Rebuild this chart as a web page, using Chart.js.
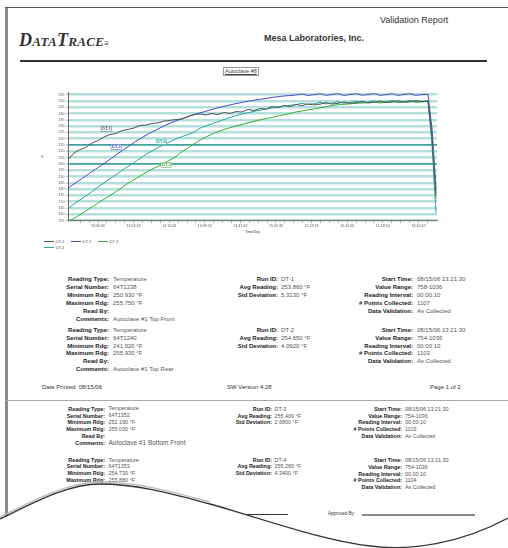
<!DOCTYPE html>
<html>
<head>
<meta charset="utf-8">
<title>Validation Report</title>
<script src="https://cdn.jsdelivr.net/npm/chart.js@4.4.1/dist/chart.umd.min.js"></script>
<style>
  body { margin: 0; background: #fff; font-family: "Liberation Sans", Arial, sans-serif; }
  #page { position: relative; width: 508px; height: 548px; overflow: hidden; background: #fff; }
  .t { position: absolute; white-space: nowrap; line-height: 1; }
  .lbl { font-weight: bold; color: #222; }
  .val { color: #555; }
  #chartBox { position: absolute; left: 40px; top: 85px; }
  #legend { position: absolute; left: 44px; top: 239px; width: 82px; display: flex; flex-wrap: wrap; row-gap: 1px; }
  .lg { display: inline-flex; align-items: center; width: 27px; font-size: 4px; color: #555; }
  .lg i { display: inline-block; width: 10px; height: 1px; margin-right: 1.5px; }
</style>
</head>
<body>
<div id="page">
  <div style="position:absolute;left:5px;top:7px;width:503px;height:1.2px;background:#555"></div>
  <div style="position:absolute;left:5px;top:8px;width:2.5px;height:512px;background:#8a8a8a"></div>

  <div class="t" style="left:380px;top:16px;font-size:9px;color:#333">Validation Report</div>
  <div class="t" style="left:19px;top:31px;font-size:18px;font-family:'Liberation Serif',serif;font-weight:bold;font-style:italic;font-variant:small-caps;color:#333;letter-spacing:0.3px">DataTrace<span style="font-size:8px">&#8801;</span></div>
  <div class="t" style="left:264px;top:34px;font-size:9px;font-weight:bold;color:#333">Mesa Laboratories, Inc.</div>
  <div style="position:absolute;left:20px;top:60px;width:467px;height:1.6px;background:#333"></div>
  <div class="t" style="left:223px;top:67px;font-size:5.5px;color:#444;border:0.5px solid #999;padding:0.5px 1px;text-decoration:underline">Autoclave #8</div>

  <div id="chartBox"><canvas id="myChart" width="420" height="150"></canvas></div>
  <div id="legend"></div>

  <div style="position:absolute;left:6px;top:400px;width:502px;height:1px;background:#aaa"></div>
  <div style="position:absolute;left:207px;top:514px;width:81px;height:1px;background:#333"></div>
  <div class="t" style="left:328px;top:512px;font-size:4.5px;color:#333">Approved By:</div>
  <div style="position:absolute;left:362px;top:514px;width:113px;height:2px;background:#888"></div>

  <svg width="508" height="548" style="position:absolute;left:0;top:0">
    <path d="M0,519 C35,502 68,484 100,484 C140,484 180,496 210,504 C260,518 320,540 370,546 C410,551 460,544 508,518 L508,548 L0,548 Z" fill="#fff"/>
    <path d="M0,517 C35,500 68,482 100,482 C140,482 180,494 210,502" fill="none" stroke="#bbb" stroke-width="1.5"/>
    <path d="M0,519 C35,502 68,484 100,484 C140,484 180,496 210,504 C260,518 320,540 370,546 C410,551 460,544 508,518" fill="none" stroke="#333" stroke-width="1.3"/>
  </svg>
</div>

<script>
// tempo em minutos desde 13:21:30
const times = [0, 3, 6, 9, 12, 15, 18, 21, 24, 27, 30, 33, 36, 39, 42, 45, 48, 51, 54, 57,
  60, 63, 66, 69, 72, 75, 78, 81, 84, 87, 90, 93, 96, 99, 102, 105, 108, 111, 114, 117,
  120, 123, 126, 129, 132, 135, 138, 141, 144, 147, 150, 153, 156, 159, 162, 165, 168,
  171, 174, 177, 180, 182, 184];

const seriesNames = ["DT-1", "DT-2", "DT-3", "DT-4"];
const seriesColors = ["#555555", "#4b4bc8", "#3cab3c", "#2ba5a5"];

const dt1 = [203.4, 208.7, 211.5, 213.1, 216.7, 218.6, 221.4, 223.4, 224.2, 226.6,
  227.4, 228.6, 230.6, 230.9, 232.2, 232.6, 234.1, 234.6, 235.3, 235.7,
  237.7, 239.3, 239.7, 238.9, 240.1, 239.3, 240.9, 240.1, 241.6, 241.3,
  243.3, 242.4, 244.0, 243.5, 245.6, 244.8, 246.4, 245.6, 247.3,
  246.3, 247.7, 246.9, 247.5, 248.7, 247.6, 248.1, 249.3, 248.1, 248.6,
  249.8, 248.5, 248.9, 250.1, 248.8, 249.1, 250.3, 249.0, 249.3, 250.4, 249.3, 249.9,
  222, 176];

const dt2 = [180.9, 184.2, 187.3, 190.6, 194.0, 197.2, 200.4, 203.7, 207.2, 210.5,
  213.7, 217.1, 220.0, 222.8, 225.4, 227.8, 230.2, 232.3, 234.3, 235.9,
  237.6, 239.2, 240.5, 241.9, 243.3, 244.6, 245.8, 246.9, 247.9, 248.9,
  249.9, 250.6, 251.4, 251.9, 252.8, 253.4, 254.0, 254.3, 254.8,
  255.6, 254.4, 255.0, 255.8, 254.5, 255.1, 255.9, 254.4, 255.2, 255.8,
  254.6, 255.1, 255.9, 254.5, 255.0, 255.8, 254.4, 255.2, 255.7, 254.5, 255.1, 255.3,
  228, 180];

const dt3 = [154.3, 156.8, 159.7, 162.9, 165.8, 169.1, 172.0, 175.0, 178.1, 181.4,
  184.7, 187.5, 190.4, 193.2, 196.0, 198.0, 200.4, 203.2, 205.9, 209.9,
  212.7, 215.9, 219.0, 221.4, 223.7, 225.6, 227.4, 228.8, 230.2, 231.4,
  232.7, 233.9, 235.0, 236.1, 237.0, 238.1, 239.1, 240.1, 241.3,
  242.1, 242.9, 243.6, 244.6, 245.4, 246.4, 247.0, 247.4, 247.7, 248.1,
  248.4, 248.6, 249.3, 248.5, 248.9, 249.8, 248.7, 249.2, 250.0, 248.9, 249.5, 249.8,
  220, 172];

const dt4 = [164.7, 168.2, 171.6, 174.8, 178.1, 181.8, 184.9, 188.3, 191.6, 194.9,
  198.2, 201.2, 204.4, 207.6, 210.3, 213.0, 215.5, 217.7, 219.9, 221.8,
  223.3, 225.4, 228.4, 230.2, 231.9, 233.6, 235.3, 236.9, 238.3, 239.7,
  240.7, 241.7, 242.7, 243.6, 244.4, 245.3, 246.0, 246.6, 247.1,
  248.2, 247.2, 247.8, 248.9, 247.7, 248.3, 249.4, 248.2, 248.8, 249.9,
  248.6, 249.2, 250.2, 248.9, 249.4, 250.4, 249.2, 249.6, 250.5, 249.4, 249.9, 250.3,
  215, 161];

// eixos
const yTicks = [155, 160, 165, 170, 175, 180, 185, 190, 195, 200, 205, 210, 215, 220,
  225, 230, 235, 240, 245, 250, 255];
const darkGridValues = [200, 215];
const xTickMinutes = [15, 32.8, 50.6, 68.4, 86.2, 104, 121.8, 139.6, 157.4, 175.2];
const xTickLabels = ["13:36:30", "13:54:18", "14:12:06", "14:29:54", "14:47:42",
  "15:05:30", "15:23:18", "15:41:06", "15:58:54", "16:16:42"];

// etiquetas nas curvas: [serie, minuto, valor]
const curveTags = [[0, 17, 227.8], [1, 22, 213.5], [3, 44.5, 217.5], [2, 47, 199.2]];

const allSeries = [dt1, dt2, dt3, dt4];

const tagPlugin = {
  id: "curveTags",
  afterDatasetsDraw(chart) {
    const ctx = chart.ctx;
    const xs = chart.scales.x, ys = chart.scales.y;
    ctx.save();
    ctx.font = "bold 4px 'Liberation Sans', Arial";
    ctx.textBaseline = "middle";
    curveTags.forEach(function(tag) {
      const px = xs.getPixelForValue(tag[1]);
      const py = ys.getPixelForValue(tag[2]);
      const txt = seriesNames[tag[0]];
      const w = ctx.measureText(txt).width + 2;
      ctx.fillStyle = "#fff";
      ctx.fillRect(px - 1, py - 2.5, w, 5);
      ctx.strokeStyle = seriesColors[tag[0]];
      ctx.lineWidth = 0.5;
      ctx.strokeRect(px - 1, py - 2.5, w, 5);
      ctx.fillStyle = seriesColors[tag[0]];
      ctx.fillText(txt, px, py);
    });
    ctx.restore();
  }
};

const tickFont = { size: 3.6, family: "'Liberation Sans', Arial" };

const chart = new Chart(document.getElementById("myChart"), {
  type: "line",
  data: {
    datasets: allSeries.map(function(s, i) {
      return {
        label: seriesNames[i],
        data: times.map(function(t, j) { return { x: t, y: s[j] }; }),
        borderColor: seriesColors[i],
        backgroundColor: seriesColors[i],
        borderWidth: 1,
        pointRadius: 0,
        tension: 0
      };
    })
  },
  options: {
    responsive: false,
    animation: false,
    layout: { padding: { top: 7.8, right: 23, left: 0, bottom: 0 } },
    plugins: { legend: { display: false }, tooltip: { enabled: false } },
    scales: {
      x: {
        type: "linear",
        min: 0,
        max: 184.5,
        afterBuildTicks(scale) {
          const ticks = [];
          xTickMinutes.forEach(function(m) {
            for (let j = -2; j <= 1; j++) {
              const v = m + j * 17.8 / 4;
              if (v > 0 && v < 184.5) ticks.push({ value: v });
            }
          });
          scale.ticks = ticks;
        },
        afterFit(scale) { scale.height = 14.3; },
        ticks: {
          autoSkip: false,
          maxRotation: 0,
          padding: 0.5,
          font: tickFont,
          color: "#555",
          callback: function(value) {
            const i = xTickMinutes.indexOf(value);
            return i >= 0 ? xTickLabels[i] : "";
          }
        },
        grid: { drawOnChartArea: false, tickLength: 2.5, tickColor: "#777", tickWidth: 0.6 },
        border: { color: "#777", width: 1 },
        title: { display: true, text: "Time/Day", font: tickFont, color: "#444", padding: 0.5 }
      },
      y: {
        min: 155,
        max: 256.5,
        afterBuildTicks(scale) {
          scale.ticks = yTicks.map(function(v) { return { value: v }; });
        },
        afterFit(scale) { scale.width = 28; },
        ticks: { autoSkip: false, font: tickFont, color: "#555", padding: 1.5 },
        grid: {
          color: function(c) {
            return darkGridValues.indexOf(c.tick && c.tick.value) >= 0 ? "#3fa39c" : "#b5dfdb";
          },
          lineWidth: function(c) {
            return darkGridValues.indexOf(c.tick && c.tick.value) >= 0 ? 1.8 : 2.6;
          },
          tickLength: 2,
          tickColor: "#777",
          tickWidth: 0.6
        },
        border: { color: "#666", width: 1 },
        title: { display: true, text: "°F", font: tickFont, color: "#444", padding: 1 }
      }
    }
  },
  plugins: [tagPlugin]
});

// legenda HTML a partir dos datasets
const legend = document.getElementById("legend");
chart.data.datasets.forEach(function(ds) {
  const item = document.createElement("span");
  item.className = "lg";
  item.innerHTML = '<i style="background:' + ds.borderColor + '"></i>' + ds.label;
  legend.appendChild(item);
});

// blocos de texto do relatório
const page = document.getElementById("page");
function addPairs(rows, labelRight, valueLeft, top, step, size, valSize) {
  rows.forEach(function(r, i) {
    const y = top + i * step - size * 0.55;
    const l = document.createElement("div");
    l.className = "t lbl";
    l.style.right = (508 - labelRight) + "px";
    l.style.top = y + "px";
    l.style.fontSize = size + "px";
    l.textContent = r[0];
    page.insertBefore(l, page.querySelector("svg"));
    const v = document.createElement("div");
    v.className = "t val";
    v.style.left = valueLeft + "px";
    v.style.top = (y - ((valSize || size) - size) * 0.5) + "px";
    v.style.fontSize = (r[2] || size) + "px";
    v.textContent = r[1];
    page.insertBefore(v, page.querySelector("svg"));
  });
}

const block1Left = [["Reading Type:", "Temperature"], ["Serial Number:", "64T1238"],
  ["Minimum Rdg:", "250.930 °F"], ["Maximum Rdg:", "255.750 °F"], ["Read By:", ""],
  ["Comments:", "Autoclave #1 Top Front"]];
const block1Mid = [["Run ID:", "DT-1"], ["Avg Reading:", "253.860 °F"], ["Std Deviation:", "5.3130 °F"]];
const block1Right = [["Start Time:", "08/15/06 13:21:30"], ["Value Range:", "758-1036"],
  ["Reading Interval:", "00:00:10"], ["# Points Collected:", "1107"], ["Data Validation:", "As Collected"]];

const block2Left = [["Reading Type:", "Temperature"], ["Serial Number:", "64T1240"],
  ["Minimum Rdg:", "241.920 °F"], ["Maximum Rdg:", "255.930 °F"], ["Read By:", ""],
  ["Comments:", "Autoclave #1 Top Rear"]];
const block2Mid = [["Run ID:", "DT-2"], ["Avg Reading:", "254.650 °F"], ["Std Deviation:", "4.0920 °F"]];
const block2Right = [["Start Time:", "08/15/06 13:21:30"], ["Value Range:", "754-1036"],
  ["Reading Interval:", "00:00:10"], ["# Points Collected:", "1103"], ["Data Validation:", "As Collected"]];

const block3Left = [["Reading Type:", "Temperature"], ["Serial Number:", "64T1352"],
  ["Minimum Rdg:", "252.190 °F"], ["Maximum Rdg:", "255.030 °F"], ["Read By:", ""],
  ["Comments:", "Autoclave #1 Bottom Front", 6.5]];
const block3Mid = [["Run ID:", "DT-3"], ["Avg Reading:", "255.400 °F"], ["Std Deviation:", "2.6800 °F"]];
const block3Right = [["Start Time:", "08/15/06 13:21:30"], ["Value Range:", "754-1036"],
  ["Reading Interval:", "00:00:10"], ["# Points Collected:", "1103"], ["Data Validation:", "As Collected"]];

const block4Left = [["Reading Type:", "Temperature"], ["Serial Number:", "64T1353"],
  ["Minimum Rdg:", "254.730 °F"], ["Maximum Rdg:", "255.880 °F"]];
const block4Mid = [["Run ID:", "DT-4"], ["Avg Reading:", "255.260 °F"], ["Std Deviation:", "4.3400 °F"]];
const block4Right = [["Start Time:", "08/15/06 13:21:30"], ["Value Range:", "754-1036"],
  ["Reading Interval:", "00:00:10"], ["# Points Collected:", "1104"], ["Data Validation:", "As Collected"]];

addPairs(block1Left, 109, 113, 279.3, 8, 6);
addPairs(block1Mid, 278, 281, 279.3, 8, 6);
addPairs(block1Right, 413, 417, 279.3, 8, 6);
addPairs(block2Left, 109, 113, 330, 7.9, 6);
addPairs(block2Mid, 278, 281, 330, 7.9, 6);
addPairs(block2Right, 413, 417, 330, 7.9, 6);
addPairs(block3Left, 105, 108.5, 410, 6.7, 5.4, 6.5);
addPairs(block3Mid, 272, 274.5, 410, 6.7, 5.4);
addPairs(block3Right, 402, 405, 410, 6.7, 5.4);
addPairs(block4Left, 105, 108.5, 460.7, 6.7, 5.4);
addPairs(block4Mid, 272, 274.5, 460.7, 6.7, 5.4);
addPairs(block4Right, 402, 405, 460.7, 6.9, 5.4);

const footer = [["Date Printed: 08/15/06", 42], ["SW Version 4.28", 227], ["Page 1 of 2", 430]];
footer.forEach(function(f) {
  const d = document.createElement("div");
  d.className = "t";
  d.style.left = f[1] + "px";
  d.style.top = "383.5px";
  d.style.fontSize = "6px";
  d.style.color = "#333";
  d.textContent = f[0];
  page.insertBefore(d, page.querySelector("svg"));
});
</script>
</body>
</html>
